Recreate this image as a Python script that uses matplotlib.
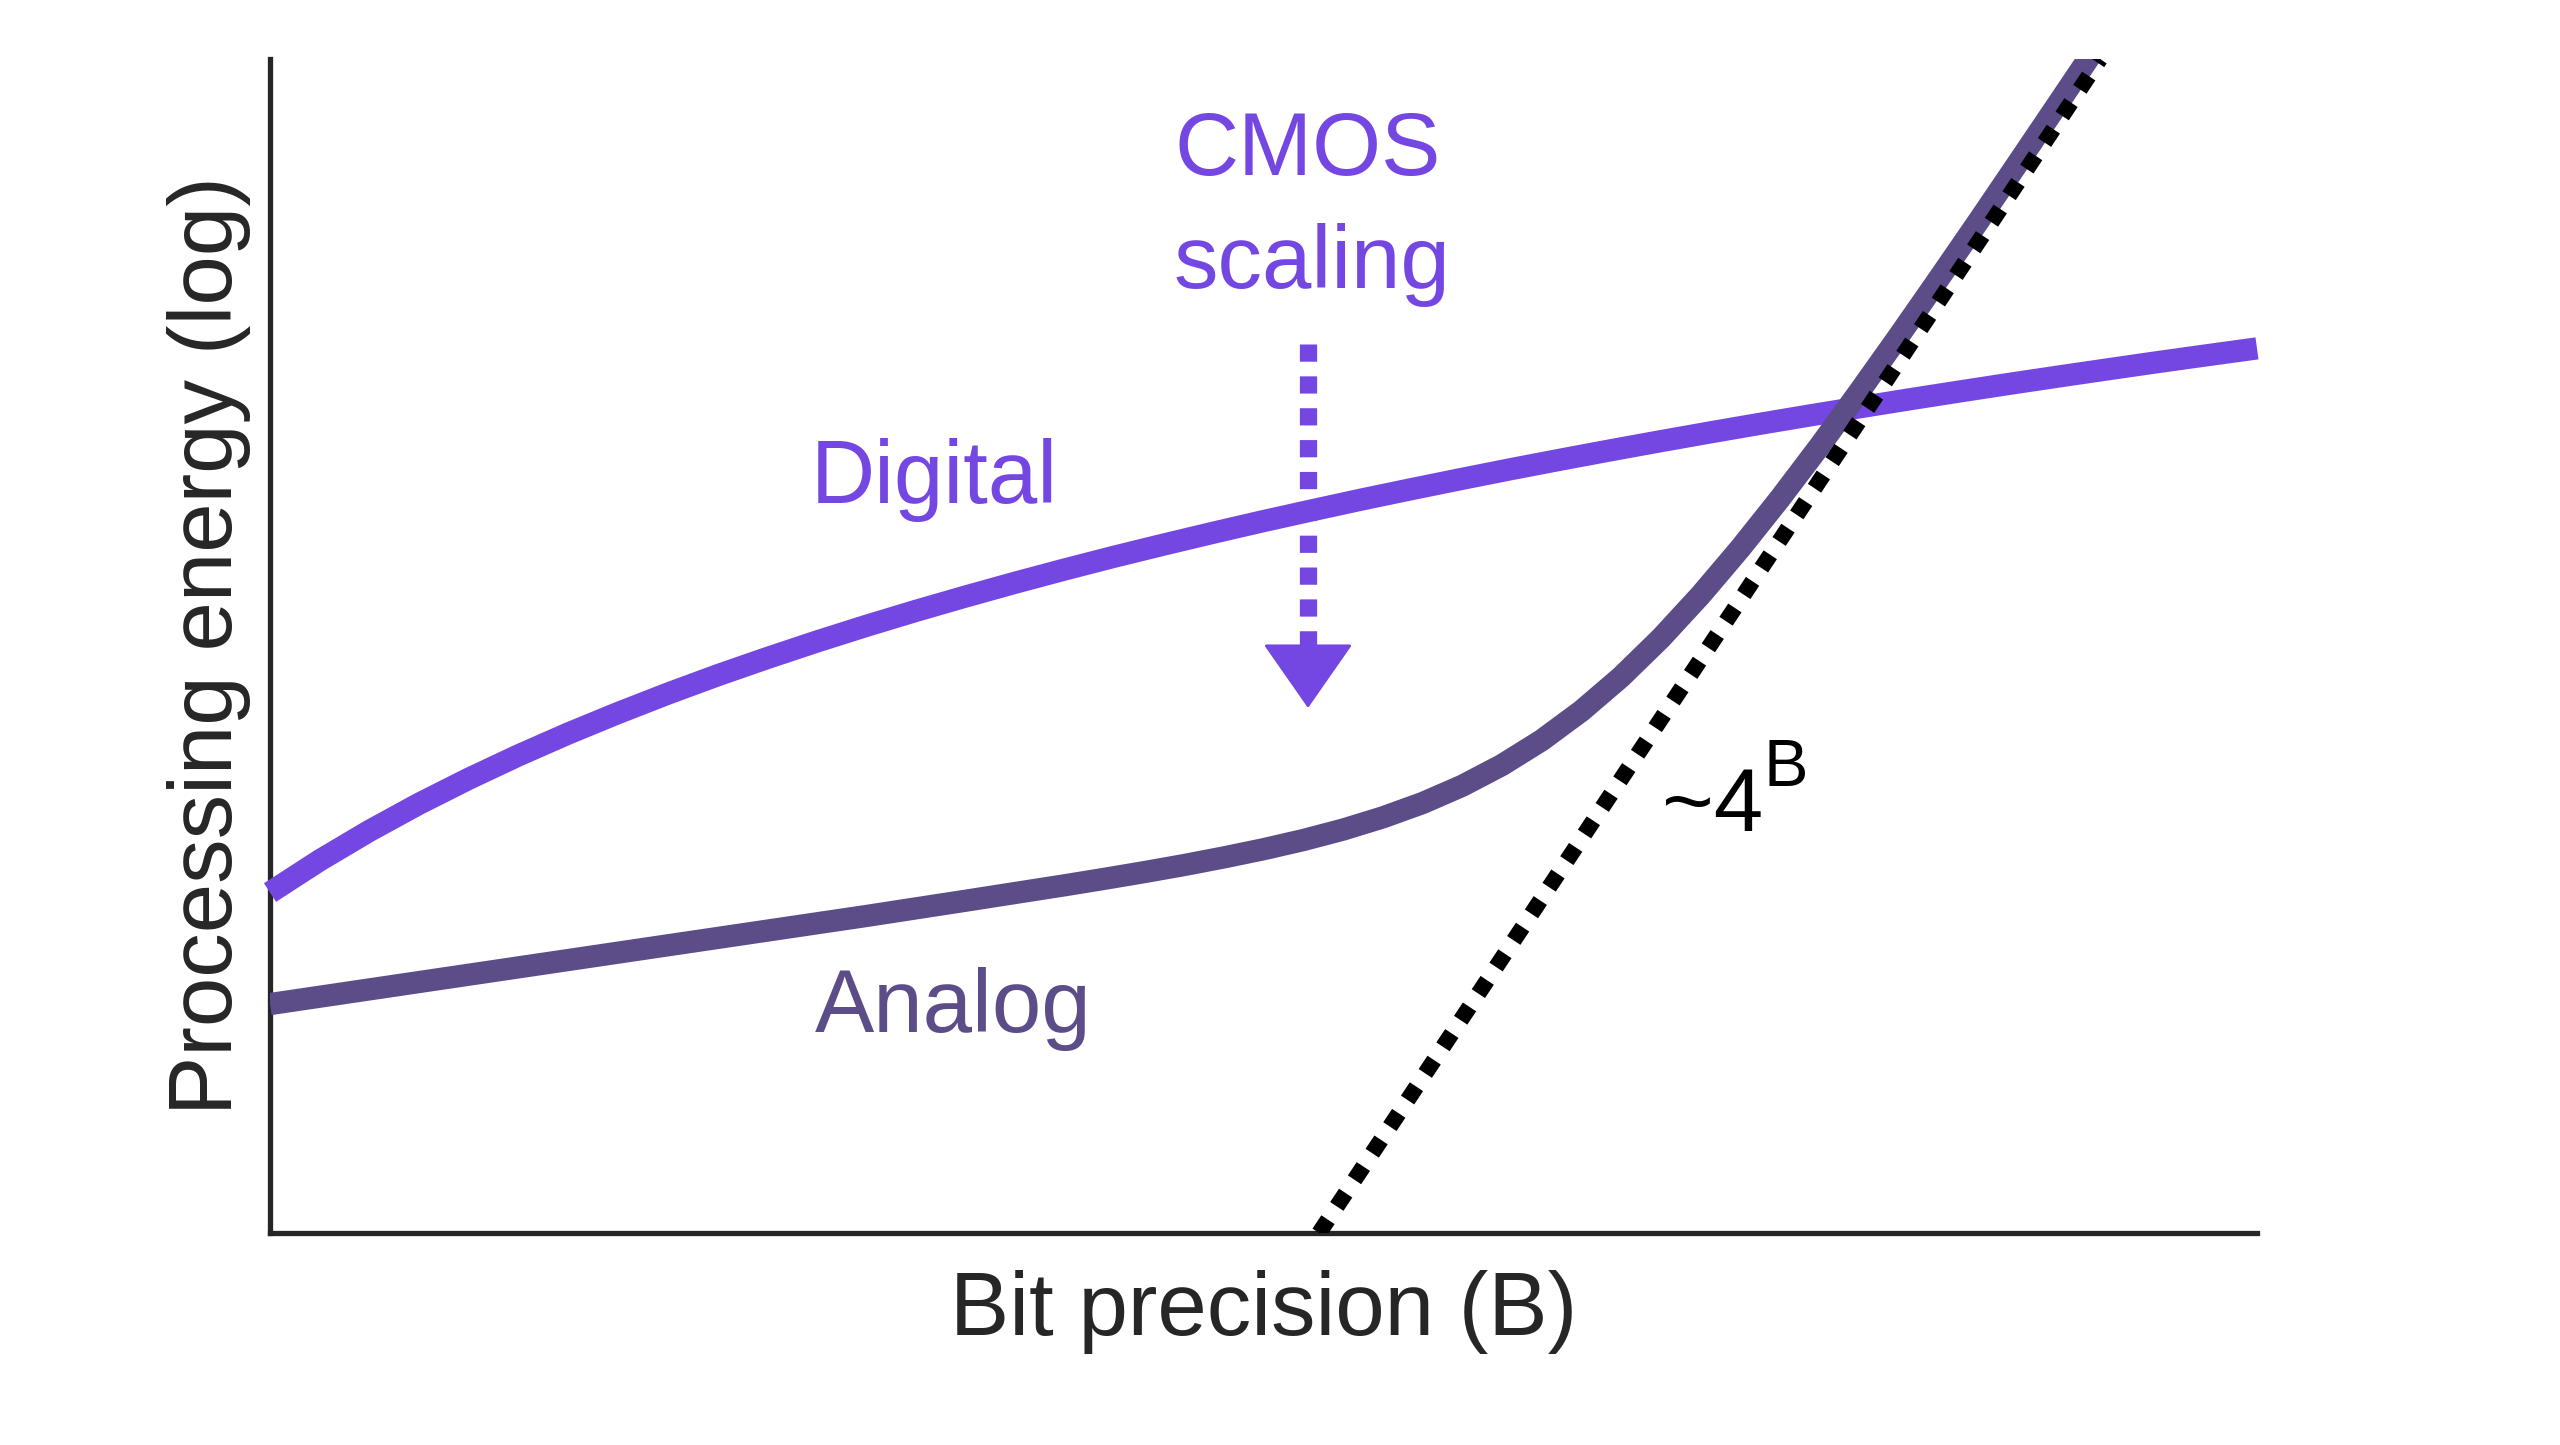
import matplotlib
matplotlib.use("Agg")
import matplotlib.pyplot as plt

plt.rcParams['font.family'] = ['Liberation Sans', 'DejaVu Sans']

# curve values (x: bit precision, y: log energy, arbitrary units)
digital_x = [0, 0.25, 0.5, 0.75, 1, 1.25, 1.5, 1.75, 2, 2.25, 2.5, 2.75, 3, 3.25, 3.5,
             3.75, 4, 4.25, 4.5, 4.75, 5, 5.25, 5.5, 5.75, 6, 6.25, 6.5, 6.75, 7,
             7.25, 7.5, 7.75, 8, 8.25, 8.5, 8.75, 9, 9.25, 9.5, 9.75, 10]
digital_y = [2.900, 3.174, 3.425, 3.656, 3.869, 4.068, 4.254, 4.428, 4.593, 4.749,
             4.896, 5.037, 5.171, 5.299, 5.421, 5.539, 5.652, 5.761, 5.865, 5.966,
             6.064, 6.158, 6.250, 6.338, 6.424, 6.508, 6.589, 6.668, 6.745, 6.820,
             6.893, 6.964, 7.033, 7.101, 7.167, 7.232, 7.295, 7.357, 7.418, 7.477, 7.535]

analog_x = [0, 0.5, 1, 1.5, 2, 2.5, 3, 3.5, 4, 4.2, 4.4, 4.6, 4.8, 5, 5.2, 5.4, 5.6,
            5.8, 6, 6.2, 6.4, 6.6, 6.8, 7, 7.2, 7.4, 7.6, 7.8, 8, 8.2, 8.4, 8.6,
            8.8, 9, 9.2]
analog_y = [1.950, 2.075, 2.200, 2.325, 2.450, 2.575, 2.700, 2.830, 2.962, 3.017,
            3.074, 3.134, 3.199, 3.269, 3.347, 3.436, 3.540, 3.662, 3.809, 3.986,
            4.197, 4.447, 4.737, 5.067, 5.434, 5.833, 6.258, 6.705, 7.170, 7.646,
            8.132, 8.623, 9.122, 9.623, 10.125]

# ~4^B asymptote
asym_x = [5.28, 9.21]
asym_y = [0, 10]

# CMOS scaling arrow
arrow_x = 5.224
arrow_top = 7.572
arrow_head_base = 4.983
arrow_tip = 4.472

digital_color = '#7447e2'
analog_color = '#5c4c88'
ink = '#262626'

fig = plt.figure(figsize=(25.6, 14.45), dpi=100)
ax = fig.add_axes([0.10547, 0.14671, 0.77617, 0.81246])
ax.set_xlim(0, 10)
ax.set_ylim(0, 10)

ax.plot(digital_x, digital_y, color=digital_color, lw=16, solid_capstyle='butt',
        solid_joinstyle='round', zorder=3, clip_on=False)
ax.plot(analog_x, analog_y, color=analog_color, lw=16, solid_capstyle='butt',
        solid_joinstyle='round', zorder=4)
ax.plot(asym_x, asym_y, color='black', lw=11.5, dashes=(1, 1),
        dash_capstyle='butt', zorder=5)

# dashed stem + filled head
ax.plot([arrow_x, arrow_x], [arrow_top, arrow_head_base - 0.05], color=digital_color,
        lw=12.4, dashes=(1.0, 0.85), dash_capstyle='butt', zorder=2)
ax.annotate('', xy=(arrow_x, arrow_tip), xytext=(arrow_x, arrow_head_base),
            arrowprops=dict(arrowstyle='-|>,head_length=4.3,head_width=3.0',
                            mutation_scale=10, color=digital_color, lw=2,
                            shrinkA=0, shrinkB=0, joinstyle='round'),
            zorder=2)

fs = 64
ax.text(5.224, 9.012, 'CMOS', color=digital_color, fontsize=fs, ha='center', va='baseline')
ax.text(5.244, 8.049, 'scaling', color=digital_color, fontsize=fs, ha='center', va='baseline')
ax.text(2.72, 6.218, 'Digital', color=digital_color, fontsize=fs, ha='left', va='baseline')
ax.text(2.74, 1.712, 'Analog', color=analog_color, fontsize=fs, ha='left', va='baseline')
ax.text(7.006, 3.424, '~4', color='black', fontsize=fs, ha='left', va='baseline')
ax.text(7.514, 3.807, 'B', color='black', fontsize=48, ha='left', va='baseline')

ax.set_xlabel('Bit precision (B)', fontsize=fs, color=ink, va='baseline')
ax.xaxis.set_label_coords(0.5, -0.0869)
ax.set_ylabel('Processing energy (log)', fontsize=fs, color=ink, va='baseline')
ax.yaxis.set_label_coords(-0.0191, 0.5)

ax.set_xticks([])
ax.set_yticks([])
for side in ['top', 'right']:
    ax.spines[side].set_visible(False)
for side in ['left', 'bottom']:
    ax.spines[side].set_linewidth(3.8)
    ax.spines[side].set_color(ink)

fig.savefig('out.png', dpi=100, facecolor='white')
